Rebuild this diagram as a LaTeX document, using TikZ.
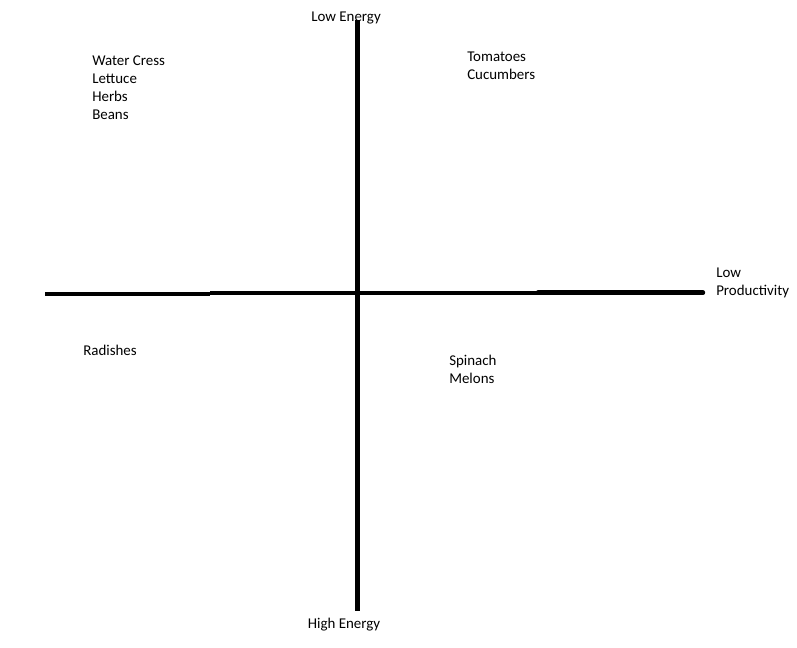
\documentclass[tikz,border=0pt]{standalone}
\usepackage{fontspec}
\setmainfont{Carlito}
\begin{document}
\begin{tikzpicture}[x=0.75pt,y=-0.75pt,
  lbl/.style={anchor=base west,inner sep=0pt,font=\fontsize{11.2pt}{13.5pt}\selectfont},
  clbl/.style={anchor=base,inner sep=0pt,font=\fontsize{11.2pt}{13.5pt}\selectfont},
  axis/.style={line width=3.3pt,black}]
\useasboundingbox (0,0) rectangle (797,648);
% axes
\coordinate (vt) at (357.5,20.5);
\coordinate (vb) at (357.5,611.5);
\coordinate (h1) at (45,294.3);
\coordinate (h2) at (210,294.3);
\coordinate (h3) at (210,293.3);
\coordinate (h4) at (538,293.3);
\coordinate (h5) at (538,292.7);
\coordinate (h6) at (703,292.7);
\draw[axis] (vt) -- (vb);
\draw[axis] (h1) -- (h2);
\draw[axis] (h3) -- (h4);
\draw[axis,line cap=round] (h5) -- (h6);
% labels
\node[clbl] (le) at (346,22) {Low Energy};
\node[clbl] (he) at (344,629) {High Energy};
\node[lbl] (lp1) at (716,278) {Low};
\node[lbl] (lp2) at (716,296) {Productivity};
\node[lbl] (q1a) at (92,66) {Water Cress};
\node[lbl] (q1b) at (92,84) {Lettuce};
\node[lbl] (q1c) at (92,102) {Herbs};
\node[lbl] (q1d) at (92,120) {Beans};
\node[lbl] (q2a) at (467,62) {Tomatoes};
\node[lbl] (q2b) at (467,80) {Cucumbers};
\node[lbl] (q3a) at (83,356) {Radishes};
\node[lbl] (q4a) at (449,366) {Spinach};
\node[lbl] (q4b) at (449,384) {Melons};
\end{tikzpicture}
\end{document}
